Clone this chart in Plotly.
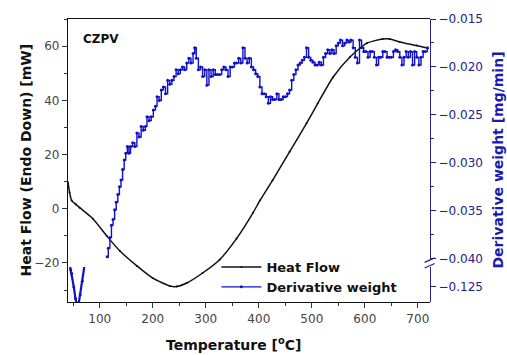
import plotly.graph_objects as go

# Heat flow (DSC) curve
hf_temp = [40, 43, 47, 55, 62, 87, 113, 138, 170, 200, 232, 245, 264, 294, 326, 358, 389, 402,
           426, 458, 490, 511, 540, 572, 604, 634, 647, 666, 698, 719]
hf_val = [9.8, 6.0, 3.0, 1.6, 0.4, -3.7, -10.0, -15.6, -21.1, -25.6, -28.5, -28.7, -27.4, -23.7, -18.8,
          -11.0, -1.5, 3.0, 10.5, 21.0, 31.5, 38.8, 48.5, 56.0, 61.1, 62.6, 62.6, 61.5, 60.2, 59.2]

# Derivative weight, low-temperature part (broken-axis segment)
dtg_low_temp = [43, 45, 47, 51, 54, 57, 60, 63, 67, 71]
dtg_low_val = [-0.1226, -0.1232, -0.1236, -0.1250, -0.1262, -0.1268, -0.1268, -0.1258, -0.1244, -0.1228]

# Derivative weight, main part
dtg_temp = [114, 116, 119, 122, 125, 128, 131, 134, 137, 140, 143, 146, 149, 152, 155, 158, 162, 166, 170, 174,
            178, 182, 186, 189, 193, 197, 201, 205, 208, 212, 216, 220, 224, 228, 232, 236, 240, 244, 248, 252,
            256, 260, 264, 268, 272, 276, 279, 282, 286, 290, 294, 298, 302, 306, 310, 314, 318, 322, 326, 330,
            334, 338, 342, 346, 350, 354, 358, 362, 366, 370, 374, 378, 382, 386, 390, 394, 398, 402, 406, 410,
            414, 418, 422, 426, 430, 434, 438, 442, 446, 450, 454, 458, 462, 466, 470, 474, 478, 482, 486, 490,
            494, 498, 502, 506, 510, 514, 518, 522, 526, 530, 534, 538, 542, 546, 550, 554, 558, 562, 566, 570,
            574, 578, 582, 586, 590, 594, 598, 602, 606, 610, 614, 618, 622, 626, 630, 634, 638, 642, 646, 650,
            654, 658, 662, 666, 670, 674, 678, 682, 686, 690, 694, 698, 702, 706, 710, 714, 718]
dtg_val = [-0.0398, -0.0389, -0.0378, -0.0365, -0.0359, -0.0349, -0.0341, -0.0333, -0.0325, -0.0318,
           -0.0307, -0.0297, -0.0290, -0.0283, -0.0290, -0.0283, -0.0279, -0.0283, -0.0269, -0.0273,
           -0.0262, -0.0266, -0.0262, -0.0252, -0.0256, -0.0252, -0.0245, -0.0241, -0.0231, -0.0235,
           -0.0224, -0.0221, -0.0228, -0.0214, -0.0218, -0.0214, -0.0210, -0.0203, -0.0207, -0.0203,
           -0.0200, -0.0203, -0.0196, -0.0191, -0.0196, -0.0186, -0.0180, -0.0191, -0.0203, -0.0200,
           -0.0210, -0.0203, -0.0219, -0.0203, -0.0210, -0.0203, -0.0208, -0.0208, -0.0208, -0.0203,
           -0.0200, -0.0203, -0.0210, -0.0200, -0.0200, -0.0196, -0.0196, -0.0191, -0.0196, -0.0180,
           -0.0191, -0.0196, -0.0191, -0.0200, -0.0203, -0.0207, -0.0210, -0.0221, -0.0228, -0.0228,
           -0.0231, -0.0238, -0.0231, -0.0234, -0.0234, -0.0228, -0.0234, -0.0234, -0.0231, -0.0231,
           -0.0228, -0.0224, -0.0214, -0.0208, -0.0203, -0.0198, -0.0196, -0.0193, -0.0190, -0.0180,
           -0.0190, -0.0193, -0.0195, -0.0198, -0.0198, -0.0195, -0.0198, -0.0190, -0.0186, -0.0182,
           -0.0186, -0.0182, -0.0186, -0.0178, -0.0175, -0.0172, -0.0178, -0.0175, -0.0172, -0.0174,
           -0.0172, -0.0180, -0.0190, -0.0196, -0.0172, -0.0180, -0.0184, -0.0184, -0.0190, -0.0184,
           -0.0184, -0.0190, -0.0198, -0.0190, -0.0190, -0.0184, -0.0184, -0.0190, -0.0190, -0.0190,
           -0.0184, -0.0182, -0.0184, -0.0190, -0.0198, -0.0190, -0.0184, -0.0190, -0.0184, -0.0198,
           -0.0184, -0.0190, -0.0198, -0.0190, -0.0184, -0.0184, -0.0180]

x_ticks = [100, 200, 300, 400, 500, 600, 700]
left_ticks = [-20, 0, 20, 40, 60]
right_ticks_top = [-0.015, -0.020, -0.025, -0.030, -0.035, -0.040]
right_ticks_low = [-0.125]

BLUE = "#1010c8"
NAVY = "#22228a"
TICK_FONT = dict(family="DejaVu Sans", size=12, color="#444444")
BOLD = "DejaVu Sans"

fig = go.Figure()

fig.add_trace(go.Scatter(
    x=hf_temp, y=hf_val, name="<b>Heat Flow</b>", mode="lines+markers",
    line=dict(color="#111111", width=1.5, shape="spline", smoothing=0.6),
    marker=dict(size=2, color="#111111"), yaxis="y"))

fig.add_trace(go.Scatter(
    x=dtg_temp, y=dtg_val, name="<b>Derivative weight</b>", mode="lines+markers",
    line=dict(color=BLUE, width=1.4, shape="hv"),
    marker=dict(size=3, color=BLUE), yaxis="y2"))

fig.add_trace(go.Scatter(
    x=dtg_low_temp, y=dtg_low_val, name="<b>Derivative weight</b>", mode="lines+markers",
    line=dict(color=BLUE, width=2.2), marker=dict(size=3, color=BLUE),
    yaxis="y3", showlegend=False))

# Axis break on the right-hand scale
y_break = 0.138
shapes = [
    dict(type="line", xref="paper", yref="paper", x0=0.985, x1=1.013, y0=y_break - 0.018, y1=y_break - 0.002,
         line=dict(color=NAVY, width=1.2)),
    dict(type="line", xref="paper", yref="paper", x0=0.985, x1=1.013, y0=y_break + 0.002, y1=y_break + 0.018,
         line=dict(color=NAVY, width=1.2)),
]

fig.update_layout(
    width=507, height=355,
    margin=dict(l=68, r=77, t=19, b=53),
    paper_bgcolor="white", plot_bgcolor="rgba(0,0,0,0)",
    showlegend=True,
    legend=dict(x=0.41, y=0.0, xanchor="left", yanchor="bottom",
                bgcolor="rgba(0,0,0,0)", font=dict(family=BOLD, size=13, color="#111111"),
                tracegroupgap=0, itemwidth=40),
    xaxis=dict(range=[40, 723], tickvals=x_ticks, ticks="outside", ticklen=5,
               tickcolor="#333333", showline=True, linecolor="#111111", linewidth=1.2,
               mirror=True, showgrid=False, zeroline=False, tickfont=TICK_FONT,
               minor=dict(dtick=50, tick0=0, ticks="outside", ticklen=3, tickcolor="#333333")),
    yaxis=dict(range=[-34.4, 70], tickvals=left_ticks, ticks="outside", ticklen=5,
               tickcolor="#333333", showline=True, linecolor="#111111", linewidth=1.2,
               showgrid=False, zeroline=False, tickfont=TICK_FONT,
               minor=dict(dtick=10, tick0=0, ticks="outside", ticklen=3, tickcolor="#333333")),
    yaxis2=dict(domain=[0.152, 1], range=[-0.04003, -0.015], anchor="x", side="right",
                tickvals=right_ticks_top, tickformat=".3f", ticks="outside", ticklen=5,
                tickcolor=NAVY, showline=True, linecolor=NAVY, linewidth=1.2,
                showgrid=False, zeroline=False,
                tickfont=dict(family="DejaVu Sans", size=12, color=NAVY),
                minor=dict(dtick=0.0025, tick0=-0.015, ticks="outside", ticklen=3, tickcolor=NAVY)),
    yaxis3=dict(domain=[0, 0.124], range=[-0.12656, -0.12291], anchor="x", side="right",
                tickvals=right_ticks_low, tickformat=".3f", ticks="outside", ticklen=5,
                tickcolor=NAVY, showline=True, linecolor=NAVY, linewidth=1.2,
                showgrid=False, zeroline=False,
                tickfont=dict(family="DejaVu Sans", size=12, color=NAVY)),
    shapes=shapes,
    annotations=[
        dict(text="<b>CZPV</b>", xref="paper", yref="paper", x=0.035, y=0.93,
             xanchor="left", yanchor="middle", showarrow=False,
             font=dict(family=BOLD, size=12, color="#111111")),
        dict(text="<b>Temperature [<sup>o</sup>C]</b>", xref="paper", yref="paper",
             x=(233 - 68) / 362, y=-0.15, xanchor="center", yanchor="middle", showarrow=False,
             font=dict(family=BOLD, size=14, color="#111111")),
        dict(text="<b>Heat Flow (Endo Down) [mW]</b>", xref="paper", yref="paper",
             x=(25 - 68) / 362, y=0.5, xanchor="center", yanchor="middle", showarrow=False,
             textangle=-90, font=dict(family=BOLD, size=14, color="#111111")),
        dict(text="<b>Derivative weight [mg/min]</b>", xref="paper", yref="paper",
             x=(497 - 68) / 362, y=0.5, xanchor="center", yanchor="middle", showarrow=False,
             textangle=-90, font=dict(family=BOLD, size=14, color="#1a1ab0")),
    ],
)

fig.write_html("out.html")
